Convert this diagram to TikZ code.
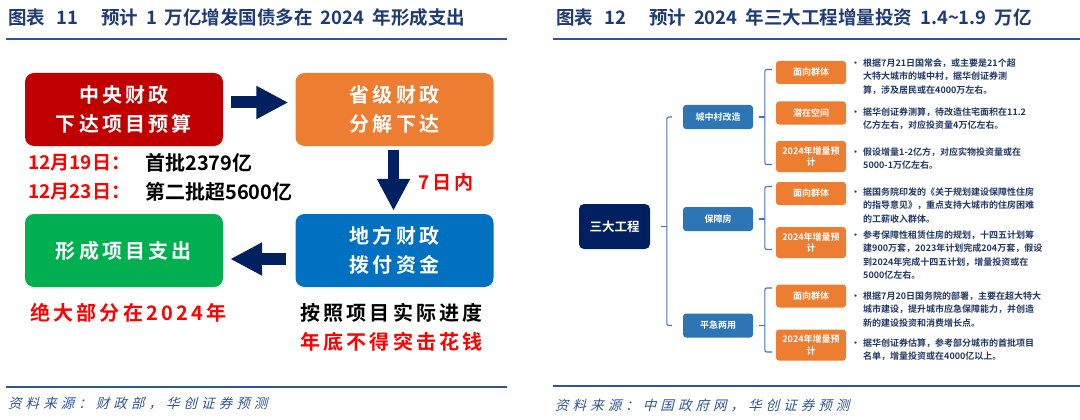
\documentclass[tikz,border=0pt]{standalone}
\usepackage{fontspec}
\setmainfont{Noto Sans CJK SC}[BoldFont={Noto Sans CJK SC Bold}]
\newfontfamily\widefont{Noto Sans CJK SC}[BoldFont={Noto Sans CJK SC Bold},LetterSpace=16]
\newfontfamily\srcfont{Noto Sans CJK SC}[FakeSlant=0.25,LetterSpace=30]
\usetikzlibrary{arrows.meta}
\definecolor{titleblue}{HTML}{1F3B73}
\definecolor{rulblue}{HTML}{2F5597}
\definecolor{cred}{HTML}{C00000}
\definecolor{corange}{HTML}{ED7D31}
\definecolor{cgreen}{HTML}{00B050}
\definecolor{cblue}{HTML}{0070C0}
\definecolor{navy}{HTML}{002060}
\definecolor{hotred}{HTML}{FF0000}
\definecolor{catblue}{HTML}{2E75B6}
\definecolor{brkblue}{HTML}{4472C4}
\definecolor{notenavy}{HTML}{1F3864}
\tikzset{
  ttl/.style={anchor=west, inner sep=0pt, text=titleblue, font=\bfseries\fontsize{18.5}{18.5}\selectfont},
  rule/.style={draw=rulblue, line width=2pt},
  src/.style={anchor=west, inner sep=0pt, text=rulblue, font=\srcfont\fontsize{13.5}{13.5}\selectfont},
  bigbox/.style={rounded corners=9pt, minimum width=198pt, minimum height=73pt, inner sep=0pt, align=center, text=white, font=\widefont\bfseries\fontsize{20}{29}\selectfont},
  blk/.style={-{Triangle[length=32pt,width=31pt]}, line width=12pt, draw=navy},
  datered/.style={anchor=west, inner sep=0pt, text=hotred, font=\bfseries\fontsize{19}{19}\selectfont},
  dateblk/.style={anchor=west, inner sep=0pt, text=black, font=\bfseries\fontsize{20}{20}\selectfont},
  say/.style={anchor=west, inner sep=0pt, font=\widefont\bfseries\fontsize{20}{20}\selectfont},
  rootbox/.style={fill=navy, rounded corners=5pt, minimum width=71pt, minimum height=45pt, inner sep=0pt, text=white, font=\bfseries\fontsize{12.5}{12.5}\selectfont},
  catbox/.style={fill=catblue, rounded corners=3pt, minimum width=70pt, minimum height=24pt, inner sep=0pt, text=white, font=\bfseries\fontsize{9}{9}\selectfont},
  itembox/.style={fill=corange, rounded corners=3pt, minimum width=70pt, minimum height=23pt, inner sep=0pt, align=center, text=white, font=\bfseries\fontsize{9}{11.5}\selectfont},
  tallitem/.style={itembox, minimum height=31pt},
  note/.style={anchor=north west, inner sep=0pt, align=left, text=notenavy, font=\bfseries\fontsize{9}{13.5}\selectfont},
  brk/.style={draw=brkblue, line width=1.1pt, rounded corners=2pt},
}
\newcommand\dotmark{\llap{\textbullet\hspace{3pt}}}

\begin{document}
\begin{tikzpicture}[x=1pt, y=-1pt]
  \fill[white] (0,0) rectangle (1080,420);
  \useasboundingbox (0,0) rectangle (1080,420);
  % left panel
  \node[ttl] (ttlL) at (8,17) {图表\hspace{11pt}11\hspace{23pt}预计\hspace{8pt}1\hspace{8pt}万亿增发国债多在\hspace{8pt}2024\hspace{8pt}年形成支出};
  \draw[rule] (6,39.5) -- (507,39.5);
  \node[bigbox, fill=cred] (cent) at (124,109.5) {中央财政\\下达项目预算};
  \node[bigbox, fill=corange] (prov) at (394.5,109.5) {省级财政\\分解下达};
  \node[bigbox, fill=cblue] (local) at (394.5,250.5) {地方财政\\拨付资金};
  \node[bigbox, fill=cgreen] (spend) at (124,250.5) {形成项目支出};
  \draw[blk, shorten <=8pt, shorten >=7pt] ([yshift=7pt]cent.east) -- ([yshift=7pt]prov.west);
  \draw[blk, line width=11pt, shorten <=4pt, shorten >=3pt] ([xshift=-1pt]prov.south) -- ([xshift=-1pt]local.north);
  \draw[blk, shorten <=9pt, shorten >=7pt] ([yshift=-8.5pt]local.west) -- ([yshift=-8.5pt]spend.east);
  \node[datered] (d1) at (28,163) {12月19日：};
  \node[dateblk] (a1) at (145,163) {首批2379亿};
  \node[datered] (d2) at (28,192) {12月23日：};
  \node[dateblk] (a2) at (145,192) {第二批超5600亿};
  \node[say, text=hotred, font=\widefont\bfseries\fontsize{19}{19}\selectfont] (week) at (418,182) {7日内};
  \node[say, text=hotred] (most) at (30,313) {绝大部分在2024年};
  \node[say, text=black] (prog) at (300,313) {按照项目实际进度};
  \node[say, text=hotred] (noend) at (300,342) {年底不得突击花钱};
  \draw[rule] (6,387) -- (507,387);
  \node[src] (srcL) at (8,404) {资料来源：财政部，华创证券预测};
  % right panel
  \node[ttl] (ttlR) at (556,17) {图表\hspace{11pt}12\hspace{23pt}预计\hspace{8pt}2024\hspace{8pt}年三大工程增量投资\hspace{8pt}1.4\textasciitilde1.9\hspace{8pt}万亿};
  \draw[rule] (553,39.5) -- (1080,39.5);
  \node[rootbox] (sanda) at (614.5,226.5) {三大工程};
  \node[catbox] (cun) at (718,117) {城中村改造};
  \node[catbox] (bz) at (718,219) {保障房};
  \node[catbox] (pj) at (718,325.5) {平急两用};
  \node[itembox] (cun1) at (811,72.5) {面向群体};
  \node[itembox] (cun2) at (811,113) {潜在空间};
  \node[tallitem] (cun3) at (811,156.5) {2024年增量预\\计};
  \node[itembox] (bz1) at (811,193.5) {面向群体};
  \node[tallitem] (bz2) at (811,242.5) {2024年增量预\\计};
  \node[itembox] (pj1) at (811,296) {面向群体};
  \node[tallitem] (pj2) at (811,345) {2024年增量预\\计};
  \draw[brk] ([xshift=11pt]sanda.east) -- ++(6,0);
  \draw[brk] ([xshift=-11pt]cun.west) -- ++(-5,0) |- ([xshift=-11pt]pj.west);
  \draw[brk] ([xshift=6pt]cun.east) -- ++(6,0);
  \draw[brk] ([xshift=-4pt,yshift=3pt]cun1.west) -- ++(-7,0) |- ([xshift=-4pt,yshift=-8pt]cun3.west);
  \draw[brk] ([xshift=6pt]bz.east) -- ++(6,0);
  \draw[brk] ([xshift=-4pt,yshift=7pt]bz1.west) -- ++(-7,0) |- ([xshift=-4pt,yshift=-7pt]bz2.west);
  \draw[brk] ([xshift=6pt]pj.east) -- ++(6,0);
  \draw[brk] ([xshift=-4pt,yshift=8pt]pj1.west) -- ++(-7,0) |- ([xshift=-4pt,yshift=-7pt]pj2.west);
  \node[note] (ncun1) at (863,58.5) {\dotmark 根据7月21日国常会，或主要是21个超\\大特大城市的城中村，据华创证券测\\算，涉及居民或在4000万左右。};
  \node[note] (ncun2) at (863,107.5) {\dotmark 据华创证券测算，待改造住宅面积在11.2\\亿方左右，对应投资量4万亿左右。};
  \node[note] (ncun3) at (863,147.5) {\dotmark 假设增量1-2亿方，对应实物投资量或在\\5000-1万亿左右。};
  \node[note] (nbz1) at (863,187.5) {\dotmark 据国务院印发的《关于规划建设保障性住房\\的指导意见》，重点支持大城市的住房困难\\的工薪收入群体。};
  \node[note] (nbz2) at (863,230.5) {\dotmark 参考保障性租赁住房的规划，十四五计划筹\\建900万套，2023年计划完成204万套，假设\\到2024年完成十四五计划，增量投资或在\\5000亿左右。};
  \node[note] (npj1) at (863,291.5) {\dotmark 根据7月20日国务院的部署，主要在超大特大\\城市建设，提升城市应急保障能力，并创造\\新的建设投资和消费增长点。};
  \node[note] (npj2) at (863,338.5) {\dotmark 据华创证券估算，参考部分城市的首批项目\\名单，增量投资或在4000亿以上。};
  \draw[rule] (553,386) -- (1080,386);
  \node[src] (srcR) at (555,405) {资料来源：中国政府网，华创证券预测};
\end{tikzpicture}
\end{document}
